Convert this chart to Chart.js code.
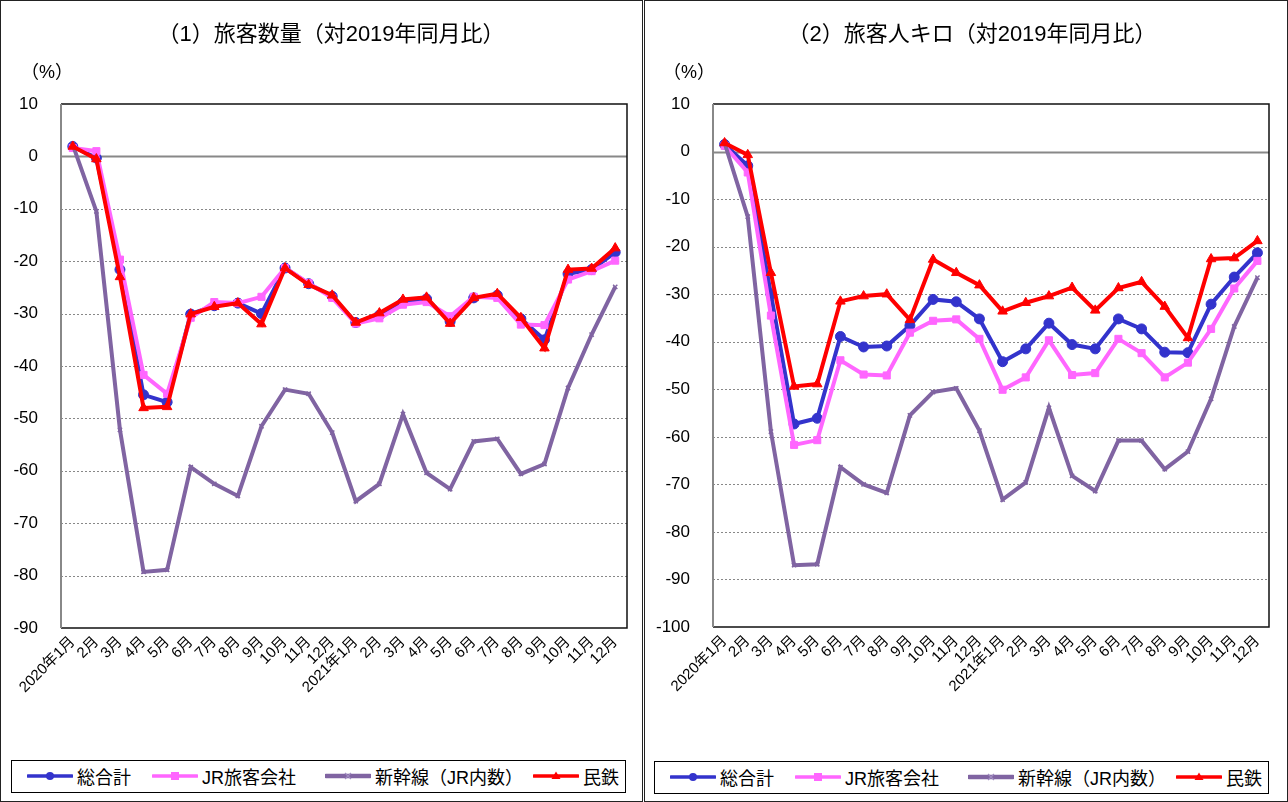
<!DOCTYPE html>
<html>
<head>
<meta charset="utf-8">
<script src="https://cdn.jsdelivr.net/npm/chart.js@4.4.1/dist/chart.umd.min.js"></script>
<style>
  html, body { margin: 0; padding: 0; background: #fff; }
  #wrap { position: relative; width: 1288px; height: 802px; background: #fff; overflow: hidden;
          font-family: "Liberation Sans", "Noto Sans CJK JP", sans-serif; color: #000; }
  .panel { position: absolute; top: 0; height: 802px; box-sizing: border-box; border: 1.5px solid #222; }
  canvas { position: absolute; top: 0; }
  .title { position: absolute; top: 21px; width: 500px; text-align: center; font-size: 22px; line-height: 26px; white-space: nowrap; }
  .unit { position: absolute; top: 61px; font-size: 18px; line-height: 22px; white-space: nowrap; }
  .legend { position: absolute; box-sizing: border-box; border: 1.5px solid #000; height: 33px; }
  .item { position: absolute; top: 0; height: 30px; display: flex; align-items: center; font-size: 18px; white-space: nowrap; }
  .item svg { margin-right: 4px; }
</style>
</head>
<body>
<div id="wrap">
  <div class="panel" style="left:0;width:643px;"></div>
  <div class="panel" style="left:644px;width:644px;"></div>
  <canvas id="c1" width="643" height="760" style="left:0;"></canvas>
  <canvas id="c2" width="644" height="760" style="left:644px;"></canvas>
  <div class="title" id="t1" style="left:81px;"></div>
  <div class="title" id="t2" style="left:722px;"></div>
  <div class="unit" style="left:21px;">（%）</div>
  <div class="unit" style="left:663px;">（%）</div>
  <div class="legend" id="lg1" style="left:11px;top:760px;width:615px;"></div>
  <div class="legend" id="lg2" style="left:654px;top:761px;width:615px;"></div>
</div>
<script>
// ---------- data ----------
const categories = ['2020年1月','2月','3月','4月','5月','6月','7月','8月','9月','10月','11月','12月',
                    '2021年1月','2月','3月','4月','5月','6月','7月','8月','9月','10月','11月','12月'];
const seriesNames = ['総合計', 'JR旅客会社', '新幹線（JR内数）', '民鉄'];
const titles = ['（1）旅客数量（対2019年同月比）', '（2）旅客人キロ（対2019年同月比）'];

// (1) passengers, % vs same month 2019
const qTotal = [1.9,-0.3,-21.6,-45.5,-46.9,-30.1,-28.5,-28.0,-30.0,-21.3,-24.3,-26.7,-31.7,-30.3,-27.8,-27.2,-31.5,-27.0,-26.5,-31.0,-35.0,-22.4,-21.6,-18.3];
const qJR    = [1.6,1.0,-19.7,-41.7,-45.3,-30.8,-27.8,-28.0,-26.8,-21.3,-24.2,-27.0,-31.9,-30.9,-28.3,-27.8,-30.5,-26.8,-27.0,-32.1,-32.2,-23.5,-21.9,-19.9];
const qShin  = [2.2,-10.5,-52.2,-79.3,-78.9,-59.3,-62.5,-64.8,-51.5,-44.5,-45.3,-52.7,-65.8,-62.5,-49.2,-60.4,-63.5,-54.4,-53.9,-60.6,-58.7,-44.2,-34.0,-24.9];
const qPriv  = [1.9,-0.5,-23.0,-48.0,-47.8,-30.1,-28.7,-28.0,-32.0,-21.3,-24.5,-26.5,-31.7,-29.9,-27.3,-26.9,-31.9,-27.0,-26.2,-30.8,-36.6,-21.6,-21.4,-17.5];

// (2) passenger-km, % vs same month 2019
const kTotal = [1.5,-3.0,-30.0,-57.3,-56.1,-38.9,-41.1,-40.9,-36.6,-31.1,-31.6,-35.2,-44.2,-41.5,-36.1,-40.6,-41.5,-35.2,-37.3,-42.2,-42.3,-32.1,-26.4,-21.3];
const kJR    = [1.2,-4.4,-34.5,-61.7,-60.7,-43.9,-46.9,-47.1,-38.1,-35.6,-35.3,-39.4,-50.1,-47.5,-39.7,-47.0,-46.6,-39.4,-42.4,-47.5,-44.4,-37.3,-28.8,-23.0];
const kShin  = [1.8,-13.7,-58.9,-87.0,-86.8,-66.4,-70.0,-71.8,-55.5,-50.6,-49.8,-58.7,-73.2,-69.6,-53.9,-68.2,-71.4,-60.8,-60.8,-66.8,-63.1,-52.0,-36.8,-26.5];
const kPriv  = [1.8,-0.7,-25.5,-49.4,-48.9,-31.5,-30.4,-30.0,-35.4,-22.7,-25.5,-28.1,-33.6,-31.8,-30.4,-28.6,-33.4,-28.7,-27.4,-32.6,-39.2,-22.6,-22.4,-18.8];

const yRange1 = { min: -90, max: 10, step: 10 };
const yRange2 = { min: -100, max: 10, step: 10 };

// ---------- styles ----------
const colors = ['#3333CC', '#FF66FF', '#8064A2', '#FF0000'];
const pointStyles = ['circle', 'rect', 'crossRot', 'triangle'];
const pointRadii = [5, 5, 3, 5.5];
const drawOrder = [4, 3, 2, 1];

Chart.defaults.font.family = '"Liberation Sans", "Noto Sans CJK JP", sans-serif';
Chart.defaults.color = '#000';

const excelGrid = {
  id: 'excelGrid',
  beforeDatasetsDraw(chart) {
    const { ctx, chartArea: a, scales: { y } } = chart;
    ctx.save();
    y.ticks.forEach(t => {
      const py = Math.round(y.getPixelForValue(t.value)) + 0.5;
      if (t.value === y.max || t.value === y.min) return;
      ctx.beginPath();
      if (t.value === 0) {
        ctx.setLineDash([]); ctx.strokeStyle = '#888'; ctx.lineWidth = 2;
      } else {
        ctx.setLineDash([2, 2]); ctx.strokeStyle = '#888'; ctx.lineWidth = 1;
      }
      ctx.moveTo(a.left, py); ctx.lineTo(a.right, py); ctx.stroke();
    });
    ctx.setLineDash([]);
    ctx.strokeStyle = '#111'; ctx.lineWidth = 1.5;
    ctx.beginPath();
    ctx.moveTo(a.left, a.top); ctx.lineTo(a.right, a.top); ctx.lineTo(a.right, a.bottom); ctx.lineTo(a.left, a.bottom);
    ctx.stroke();
    ctx.strokeStyle = '#888'; ctx.lineWidth = 2;
    ctx.beginPath(); ctx.moveTo(a.left, a.top); ctx.lineTo(a.left, a.bottom); ctx.stroke();
    ctx.restore();
  }
};

function makeChart(id, data, range, yWidth, padRight, xHeight) {
  const datasets = data.map((vals, i) => ({
    label: seriesNames[i],
    data: vals,
    borderColor: colors[i],
    backgroundColor: colors[i],
    pointBackgroundColor: colors[i],
    pointBorderColor: colors[i],
    borderWidth: 4,
    pointStyle: pointStyles[i],
    pointRadius: pointRadii[i],
    pointBorderWidth: i === 2 ? 1.5 : 1,
    tension: 0,
    order: drawOrder[i]
  }));
  return new Chart(document.getElementById(id), {
    type: 'line',
    data: { labels: categories, datasets },
    plugins: [excelGrid],
    options: {
      responsive: false,
      animation: false,
      layout: { padding: { top: 104, left: 0, right: padRight, bottom: 0 } },
      plugins: { legend: { display: false }, tooltip: { enabled: false }, title: { display: false } },
      scales: {
        x: {
          type: 'category',
          offset: true,
          grid: { display: false, drawTicks: false },
          border: { display: false },
          ticks: { autoSkip: false, maxRotation: 45, minRotation: 45, padding: 5,
                   font: { size: 15 }, color: '#000' },
          afterFit(s) { s.height = xHeight; }
        },
        y: {
          min: range.min, max: range.max,
          grid: { display: false, drawTicks: false },
          border: { display: false },
          ticks: { stepSize: range.step, padding: 23, font: { size: 17 }, color: '#000' },
          afterFit(s) { s.width = yWidth; }
        }
      }
    }
  });
}

makeChart('c1', [qTotal, qJR, qShin, qPriv], yRange1, 61, 16, 132);
makeChart('c2', [kTotal, kJR, kShin, kPriv], yRange2, 69, 19, 133);

document.getElementById('t1').textContent = titles[0];
document.getElementById('t2').textContent = titles[1];

// ---------- legends ----------
function icon(i) {
  const c = colors[i];
  let m = '';
  if (i === 0) m = `<circle cx="23" cy="8" r="4" fill="${c}"/>`;
  if (i === 1) m = `<rect x="19" y="4" width="8" height="8" fill="${c}"/>`;
  if (i === 2) m = `<path d="M20 5 L26 11 M26 5 L20 11" stroke="#a08cc0" stroke-width="1.2"/>`;
  if (i === 3) m = `<path d="M23 3.5 L27.5 11 L18.5 11 Z" fill="${c}"/>`;
  return `<svg width="46" height="16" viewBox="0 0 46 16"><line x1="1" y1="8" x2="45" y2="8" stroke="${c}" stroke-width="${i===2?4.5:3.5}" stroke-linecap="round"/>${m}</svg>`;
}
const legendX = [15, 140, 313, 521];
['lg1', 'lg2'].forEach(id => {
  const box = document.getElementById(id);
  seriesNames.forEach((n, i) => {
    const d = document.createElement('div');
    d.className = 'item';
    d.style.left = legendX[i] + 'px';
    d.innerHTML = icon(i) + '<span>' + n + '</span>';
    box.appendChild(d);
  });
});
</script>
</body>
</html>
